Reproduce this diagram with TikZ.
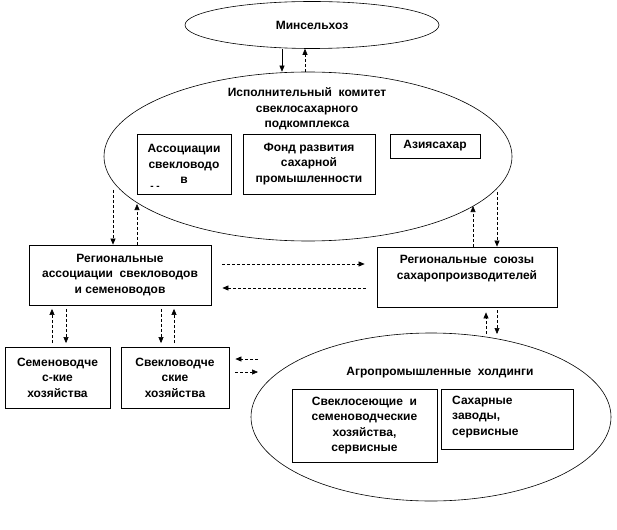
\documentclass[tikz,border=0pt]{standalone}
\usepackage{fontspec}
\setmainfont{Liberation Sans}
\usetikzlibrary{shapes.geometric,arrows.meta}
\begin{document}
\begin{tikzpicture}[x=1pt,y=-1pt,
  every node/.style={font=\bfseries\fontsize{12}{15.5}\selectfont, inner sep=0pt, align=center},
  box/.style={draw, line width=0.8pt, rectangle},
  oval/.style={draw, ellipse, line width=0.6pt},
  arr/.style={-{Triangle[length=6pt,width=5pt]}, line width=0.6pt},
  dsh/.style={arr, dash pattern=on 3pt off 2pt},
  gap/.style={shorten <=3.5pt, shorten >=3.5pt}]
\useasboundingbox (0,0) rectangle (617,529);

% ellipses
\node[oval, minimum width=254pt, minimum height=47pt] (min) at (312,25) {Минсельхоз};
\node[oval, minimum width=408pt, minimum height=169pt] (exec) at (308,156.5) {};
\node (execT) at (307,109) {Исполнительный\ \ комитет\\свеклосахарного\\подкомплекса};
\node[oval, minimum width=360pt, minimum height=168pt] (hold) at (431,417) {};
\node (holdT) at (440,373) {Агропромышленные\ \ холдинги};

% boxes inside committee
\node[box, minimum width=94pt, minimum height=60pt] (assoc) at (184,164) {Ассоциации\\свекловодо\\в};
\node[font=\bfseries\fontsize{10}{10}\selectfont] (dd) at (155,188) {-\ -};
\node[box, minimum width=132pt, minimum height=60pt] (fond) at (309,164) {Фонд развития\\сахарной\\промышленности};
\node[box, minimum width=90pt, minimum height=24pt] (azia) at (435,146) {Азиясахар};

% regional boxes
\node[box, minimum width=182pt, minimum height=60pt] (reg) at (120,275) {Региональные\\ассоциации\ \ свекловодов\\и семеноводов};
\node[box, minimum width=180pt, minimum height=60pt] (union) at (467,277) {};
\node (unionT) at (467,268.5) {Региональные\ \ союзы\\сахаропроизводителей};

% farms
\node[box, minimum width=105pt, minimum height=61pt] (semen) at (57.5,377.5) {Семеноводче\\с-кие\\хозяйства};
\node[box, minimum width=108pt, minimum height=61pt] (svek) at (175,377.5) {Свекловодче\\ские\\хозяйства};

% holdings boxes
\node[box, minimum width=145pt, minimum height=73pt] (sveks) at (364.5,425.5) {Свеклосеющие\ \ и\\семеноводческие\\хозяйства,\\сервисные};
\node[box, minimum width=132pt, minimum height=60pt] (sahar) at (507,419) {};
\node[anchor=west, align=left] (saharT) at (452,417) {Сахарные\\заводы,\\сервисные};

% free ends
\coordinate (eL) at (113,190);
\coordinate (eLu) at (137,204);
\coordinate (eR) at (497,192);
\coordinate (eRu) at (473,206);
\coordinate (hA) at (258,359);
\coordinate (hB) at (258,372);
\coordinate (hU) at (486,334);
\coordinate (hD) at (497,334);

% connectors
\draw[arr] ([xshift=-30pt]min.south) -- ([xshift=-26pt]exec.north);
\draw[dsh] ([xshift=-3pt]exec.north) -- ([xshift=-7pt]min.south);

\draw[dsh] (eL) -- (eL |- reg.north);
\draw[dsh] (eLu |- reg.north) -- (eLu);
\draw[dsh] (eRu |- union.north) -- (eRu);
\draw[dsh] (eR) -- (eR |- union.north);

\draw[dsh] ([shift={(11pt,11pt)}]reg.east) -- ([shift={(-12pt,13pt)}]union.west);
\draw[dsh] ([shift={(-11pt,-11pt)}]union.west) -- ([shift={(11pt,-13pt)}]reg.east);

\draw[dsh,gap] ([xshift=-5.5pt]semen.north) -- ([xshift=-68pt]reg.south);
\draw[dsh,gap] ([xshift=-54pt]reg.south) -- ([xshift=8.5pt]semen.north);
\draw[dsh,gap] ([xshift=41pt]reg.south) -- ([xshift=-14pt]svek.north);
\draw[dsh,gap] ([xshift=-1pt]svek.north) -- ([xshift=54pt]reg.south);

\draw[dsh, shorten >=6pt] (hA) -- (hA -| svek.east);
\draw[dsh, shorten <=6pt] (hB -| svek.east) -- (hB);

\draw[dsh, shorten >=5pt] (hU) -- (hU |- union.south);
\draw[dsh, shorten <=3pt] (hD |- union.south) -- (hD);
\end{tikzpicture}
\end{document}
